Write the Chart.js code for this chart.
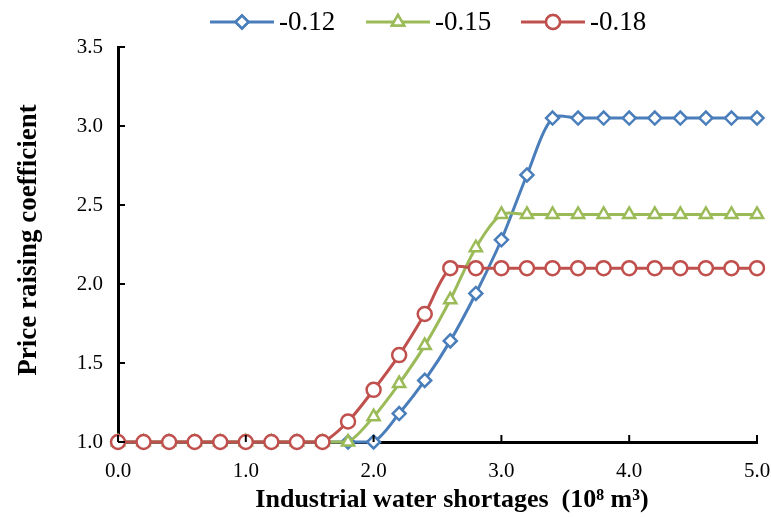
<!DOCTYPE html>
<html lang="en">
  <head>
    <meta charset="UTF-8" />
    <title>Price raising coefficient</title>
    <script src="https://cdn.jsdelivr.net/npm/chart.js"></script>
    <style>
      html,
      body {
        margin: 0;
        padding: 0;
        background: #fff;
      }
      .chart-container {
        width: 771px;
        height: 517px;
      }
    </style>
  </head>
  <body>
    <div class="chart-container">
      <canvas id="price_chart"></canvas>
    </div>

    <script>
      // x values: industrial water shortages, 10^8 m3
      const shortages = [
        0.0, 0.2, 0.4, 0.6, 0.8, 1.0, 1.2, 1.4, 1.6, 1.8, 2.0, 2.2, 2.4, 2.6,
        2.8, 3.0, 3.2, 3.4, 3.6, 3.8, 4.0, 4.2, 4.4, 4.6, 4.8, 5.0,
      ];
      const seriesLabels = ["-0.12", "-0.15", "-0.18"];
      const coef012 = [
        1, 1, 1, 1, 1, 1, 1, 1, 1, 1, 1, 1.18, 1.39, 1.64, 1.94, 2.28, 2.69,
        3.05, 3.05, 3.05, 3.05, 3.05, 3.05, 3.05, 3.05, 3.05,
      ];
      const coef015 = [
        1, 1, 1, 1, 1, 1, 1, 1, 1, 1, 1.16, 1.37, 1.61, 1.9, 2.23, 2.44, 2.44,
        2.44, 2.44, 2.44, 2.44, 2.44, 2.44, 2.44, 2.44, 2.44,
      ];
      const coef018 = [
        1, 1, 1, 1, 1, 1, 1, 1, 1, 1.13, 1.33, 1.55, 1.81, 2.1, 2.1, 2.1, 2.1,
        2.1, 2.1, 2.1, 2.1, 2.1, 2.1, 2.1, 2.1, 2.1,
      ];
      const yTicks = [1.0, 1.5, 2.0, 2.5, 3.0, 3.5];
      const xTicks = [0.0, 1.0, 2.0, 3.0, 4.0, 5.0];
      const xTitle = "Industrial water shortages  (10⁸ m³)";
      const yTitle = "Price raising coefficient";

      const colors = ["#4A7EBB", "#9BBB59", "#C0504D"];
      const markers = ["rectRot", "triangle", "circle"];
      const radii = [6.5, 7, 7];
      const serif = "'Liberation Serif', 'Times New Roman', serif";

      function toPoints(values) {
        return shortages.map((x, i) => ({ x: x, y: values[i] }));
      }

      const allSeries = [coef012, coef015, coef018];
      const datasets = allSeries.map((values, i) => ({
        label: seriesLabels[i],
        data: toPoints(values),
        borderColor: colors[i],
        backgroundColor: "#ffffff",
        borderWidth: 3,
        pointStyle: markers[i],
        pointRadius: radii[i],
        pointBorderWidth: 2.5,
        pointBackgroundColor: "#ffffff",
        pointBorderColor: colors[i],
        tension: 0.3,
        clip: false,
        order: 2 - i,
      }));

      // inward tick marks, axis titles and a legend with line + marker
      const extras = {
        id: "extras",
        afterDraw(chart) {
          const ctx = chart.ctx;
          const xs = chart.scales.x;
          const ys = chart.scales.y;
          const area = chart.chartArea;
          ctx.save();
          ctx.strokeStyle = "#000";
          ctx.lineWidth = 2;
          yTicks.forEach((v) => {
            const py = ys.getPixelForValue(v);
            ctx.beginPath();
            ctx.moveTo(area.left, py);
            ctx.lineTo(area.left + 7, py);
            ctx.stroke();
          });
          xTicks.forEach((v) => {
            const px = xs.getPixelForValue(v);
            ctx.beginPath();
            ctx.moveTo(px, area.bottom);
            ctx.lineTo(px, area.bottom - 7);
            ctx.stroke();
          });

          // axis titles
          ctx.fillStyle = "#000";
          ctx.textAlign = "center";
          ctx.textBaseline = "middle";
          ctx.font = "bold 26px " + serif;
          ctx.fillText(xTitle, 452, 500);
          ctx.save();
          ctx.translate(29, 240);
          ctx.rotate(-Math.PI / 2);
          ctx.font = "bold 27px " + serif;
          ctx.fillText(yTitle, 0, 0);
          ctx.restore();

          // legend
          const legendX = [210, 366, 521];
          const legendY = 22;
          ctx.font = "27px " + serif;
          ctx.textBaseline = "middle";
          ctx.textAlign = "left";
          chart.data.datasets.forEach((ds, i) => {
            const x0 = legendX[i];
            ctx.strokeStyle = ds.borderColor;
            ctx.lineWidth = 3;
            ctx.beginPath();
            ctx.moveTo(x0, legendY);
            ctx.lineTo(x0 + 64, legendY);
            ctx.stroke();
            ctx.lineWidth = 2.5;
            Chart.helpers.drawPoint(
              ctx,
              {
                pointStyle: ds.pointStyle,
                radius: ds.pointRadius,
                borderWidth: 2.5,
                rotation: 0,
              },
              x0 + 32,
              legendY
            );
            ctx.fillStyle = "#fff";
            ctx.fill();
            ctx.stroke();
            ctx.fillStyle = "#000";
            ctx.fillText(ds.label, x0 + 69, legendY + 1);
          });
          ctx.restore();
        },
      };

      new Chart(document.getElementById("price_chart").getContext("2d"), {
        type: "line",
        data: { datasets: datasets },
        options: {
          responsive: true,
          maintainAspectRatio: false,
          animation: false,
          layout: {
            padding: { top: 47, right: 14, left: 0, bottom: 0 },
          },
          plugins: {
            legend: { display: false },
            tooltip: { enabled: false },
          },
          scales: {
            x: {
              type: "linear",
              min: 0,
              max: 5,
              afterBuildTicks(axis) {
                axis.ticks = xTicks.map((v) => ({ value: v }));
              },
              afterFit(axis) {
                axis.height = 75;
                axis.paddingLeft = 0;
                axis.paddingRight = 0;
              },
              border: { display: true, color: "#000", width: 3 },
              grid: { drawOnChartArea: false, drawTicks: false },
              ticks: {
                color: "#000",
                padding: 17,
                maxRotation: 0,
                font: { family: serif, size: 21 },
                callback: (v) => Number(v).toFixed(1),
              },
            },
            y: {
              min: 1,
              max: 3.5,
              afterBuildTicks(axis) {
                axis.ticks = yTicks.map((v) => ({ value: v }));
              },
              afterFit(axis) {
                axis.width = 118;
                axis.paddingTop = 0;
                axis.paddingBottom = 0;
              },
              border: { display: true, color: "#000", width: 3 },
              grid: { drawOnChartArea: false, drawTicks: false },
              ticks: {
                color: "#000",
                padding: 15,
                font: { family: serif, size: 21 },
                callback: (v) => Number(v).toFixed(1),
              },
            },
          },
        },
        plugins: [extras],
      });
    </script>
  </body>
</html>
